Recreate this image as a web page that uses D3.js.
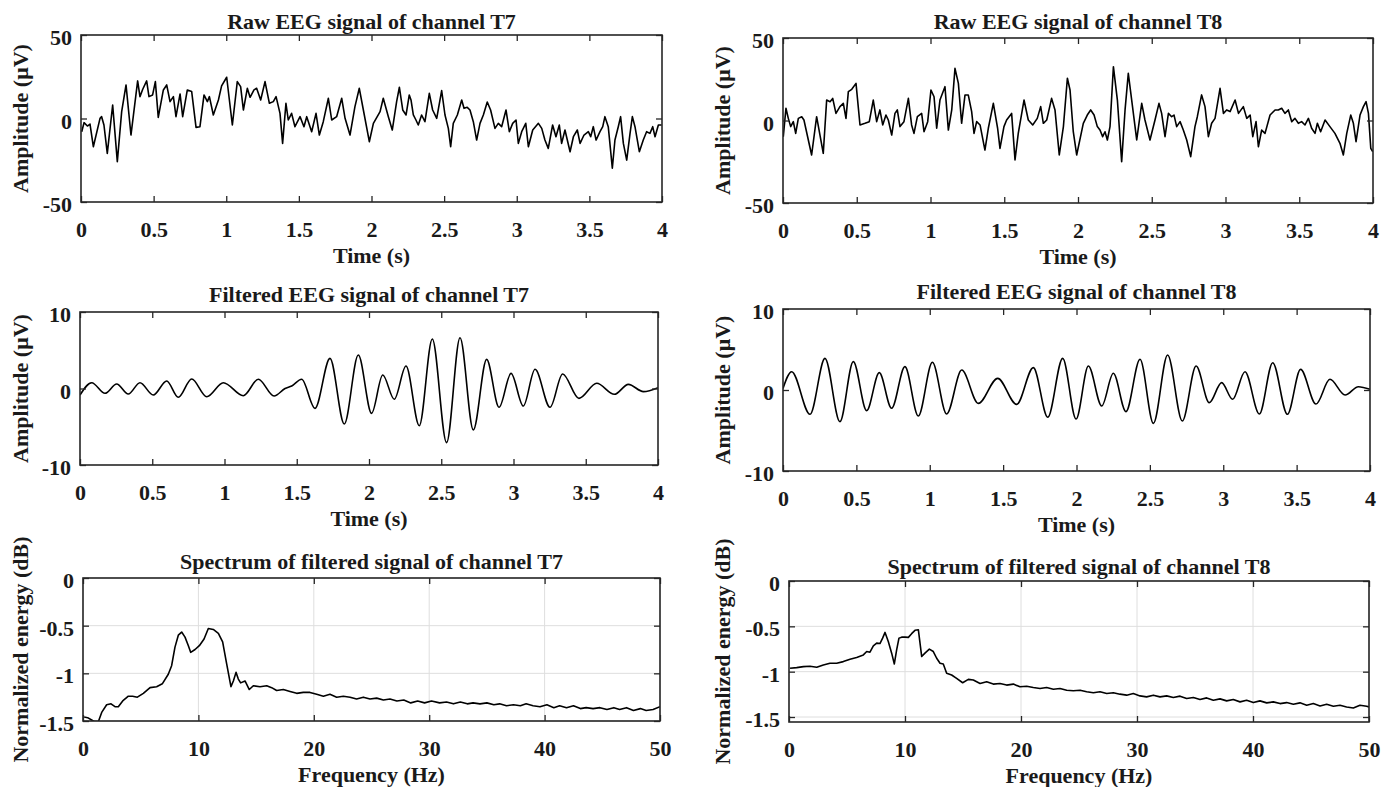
<!DOCTYPE html>
<html>
<head>
<meta charset="utf-8">
<script src="https://cdn.jsdelivr.net/npm/d3@7"></script>
<style>
  body { margin: 0; background: #fff; }
  svg text { font-family: "Liberation Serif", "Times New Roman", serif; font-weight: bold; fill: #1a1a1a; }
</style>
</head>
<body>
<svg id="chart" width="1395" height="787"></svg>
<script>
//--> Data: [time (s), amplitude (uV)] or [frequency (Hz), energy (dB)]
const rawT7 = [
  [0.005,-7.9],[0.021,-2.5],[0.044,-4.5],[0.062,-3.3],[0.085,-16.9],[0.131,0.1],[0.142,1.1],[0.158,-3.9],
  [0.181,-20.9],[0.218,8.1],[0.25,-25.8],[0.28,4.1],[0.31,20.1],[0.344,-9.9],[0.39,22.5],[0.406,13.1],
  [0.425,17.5],[0.452,22.5],[0.468,13.1],[0.493,14.1],[0.512,22.1],[0.532,0.7],[0.567,17.1],[0.59,20.1],
  [0.613,10.1],[0.636,13.1],[0.654,1.1],[0.682,14.7],[0.7,1.1],[0.732,17.1],[0.762,16.1],[0.792,-5.3],
  [0.819,-4.9],[0.847,14.1],[0.87,10.1],[0.884,13.1],[0.911,2.1],[0.946,11.1],[0.968,19.5],[1.003,24.7],
  [1.042,-3.9],[1.076,22.1],[1.099,19.1],[1.118,5.1],[1.145,18.1],[1.164,12.7],[1.191,17.1],[1.209,18.1],
  [1.237,11.1],[1.267,22.1],[1.297,9.1],[1.324,10.1],[1.343,13.1],[1.37,3.1],[1.388,-14.9],[1.411,9.1],
  [1.427,-0.9],[1.45,3.1],[1.473,-4.9],[1.508,1.1],[1.535,-4.9],[1.554,1.1],[1.588,-7.9],[1.618,3.1],
  [1.641,-9.9],[1.668,-1.9],[1.703,12.1],[1.726,-0.9],[1.76,1.1],[1.795,12.1],[1.818,0.1],[1.852,-9.9],
  [1.886,7.1],[1.916,18.1],[1.944,5.1],[1.985,-13.9],[2.013,-2.9],[2.059,4.1],[2.081,12.1],[2.116,1.1],
  [2.143,-6.9],[2.173,10.1],[2.192,18.7],[2.215,5.1],[2.238,2.1],[2.26,14.1],[2.272,11.1],[2.288,2.1],
  [2.306,-0.9],[2.322,-3.9],[2.345,2.1],[2.368,-1.9],[2.398,15.1],[2.421,5.1],[2.449,0.1],[2.483,16.7],
  [2.506,2.1],[2.529,-5.9],[2.545,-16.9],[2.563,-2.9],[2.591,2.1],[2.621,11.1],[2.637,6.1],[2.659,6.7],
  [2.678,5.1],[2.701,-1.9],[2.724,-12.9],[2.747,-2.9],[2.77,2.1],[2.797,9.9],[2.82,5.1],[2.85,-5.9],
  [2.873,-2.9],[2.896,-4.9],[2.926,5.1],[2.949,-7.9],[2.972,-2.9],[2.995,-0.9],[3.011,-14.9],[3.034,-7.9],
  [3.062,-2.9],[3.08,-16.9],[3.11,-6.9],[3.149,-2.9],[3.172,-5.9],[3.194,-12.9],[3.217,-17.9],[3.247,-3.9],
  [3.27,-10.9],[3.293,-3.9],[3.309,-14.9],[3.332,-6.9],[3.367,-19.9],[3.39,-10.9],[3.417,-6.9],[3.436,-14.9],
  [3.463,-9.9],[3.493,-7.9],[3.509,-10.9],[3.527,-4.9],[3.546,-12.9],[3.573,-7.9],[3.592,-4.9],[3.607,1.1],
  [3.63,-4.9],[3.658,-29.8],[3.676,-12.9],[3.699,-4.9],[3.715,1.1],[3.734,-14.9],[3.757,-24.9],[3.78,-8.9],
  [3.796,1.1],[3.814,-4.9],[3.844,-19.9],[3.871,-12.9],[3.894,-7.9],[3.917,-8.9],[3.936,-4.9],[3.952,-10.9],
  [3.975,-3.9],[3.998,-3.9]
];

const rawT8 = [
  [0.002,-9.8],[0.02,7.4],[0.036,1.3],[0.052,-3.7],[0.07,-0.7],[0.086,-7.8],[0.104,1.3],[0.127,2.3],
  [0.142,0.3],[0.194,-20.9],[0.228,2.3],[0.273,-19.9],[0.296,12.4],[0.319,11.4],[0.337,13.4],[0.359,4.3],
  [0.386,8.4],[0.409,10.4],[0.427,1.3],[0.443,17.5],[0.466,18.9],[0.495,22.5],[0.522,-2.7],[0.556,-1.7],
  [0.585,-0.7],[0.612,12.4],[0.635,-0.7],[0.657,6.4],[0.676,-2.7],[0.698,3.3],[0.714,0.3],[0.737,-8.8],
  [0.759,4.3],[0.775,6.4],[0.793,-3.7],[0.82,-0.7],[0.85,13.4],[0.872,-2.7],[0.888,-7.8],[0.911,2.3],
  [0.94,4.3],[0.956,-6.8],[0.981,-0.7],[1.003,18.5],[1.024,14.4],[1.042,-4.7],[1.064,12.4],[1.098,20.5],
  [1.121,-5.8],[1.144,6.4],[1.166,31.6],[1.189,22.5],[1.211,-1.7],[1.234,15.5],[1.256,15.5],[1.279,5.4],
  [1.295,-7.8],[1.313,-0.7],[1.336,-2.7],[1.369,-17.9],[1.392,-4.7],[1.426,10.4],[1.455,-4.7],[1.471,-16.9],
  [1.498,-3.7],[1.516,0.3],[1.55,4.3],[1.573,-23.9],[1.595,-7.8],[1.634,12.4],[1.663,0.3],[1.693,-2.7],
  [1.724,1.3],[1.747,8.4],[1.765,-1.7],[1.788,0.3],[1.821,13.4],[1.844,6.4],[1.873,-20.9],[1.901,-3.7],
  [1.928,25.6],[1.946,18.5],[1.968,-6.8],[1.991,-20.9],[2.036,-1.7],[2.063,3.3],[2.086,6.4],[2.109,3.3],
  [2.131,-3.7],[2.149,-5.8],[2.167,-9.8],[2.183,-6.8],[2.199,-11.8],[2.217,-3.7],[2.24,32.6],[2.267,12.4],
  [2.296,-24.9],[2.319,6.4],[2.341,28.6],[2.364,12.4],[2.398,-11.8],[2.432,10.4],[2.454,0.3],[2.488,-11.8],
  [2.522,0.3],[2.549,10.4],[2.567,4.3],[2.59,-9.8],[2.613,4.3],[2.635,2.3],[2.651,3.3],[2.669,-3.7],
  [2.692,-0.7],[2.714,-5.8],[2.737,-11.8],[2.764,-21.9],[2.793,-3.7],[2.809,2.3],[2.838,15.5],[2.861,8.4],
  [2.884,-9.8],[2.906,-1.7],[2.929,1.3],[2.963,19.5],[2.986,4.3],[3.008,6.4],[3.031,5.4],[3.065,12.4],
  [3.088,4.3],[3.121,8.4],[3.144,1.3],[3.167,3.3],[3.185,-9.8],[3.207,-0.7],[3.223,-15.9],[3.245,-5.8],
  [3.268,-7.8],[3.302,3.3],[3.336,6.4],[3.358,6.4],[3.381,7.4],[3.403,4.3],[3.426,6.4],[3.449,-0.7],
  [3.471,1.3],[3.494,-1.7],[3.516,-0.7],[3.539,-2.7],[3.562,1.3],[3.584,-4.7],[3.607,-7.8],[3.623,-1.7],
  [3.645,-6.8],[3.675,0.3],[3.708,-3.7],[3.742,-7.8],[3.776,-13.8],[3.799,-20.9],[3.822,-7.8],[3.849,3.3],
  [3.867,-1.7],[3.885,-12.8],[3.912,3.3],[3.935,8.4],[3.953,11.4],[3.969,4.3],[3.985,-16.9],[3.998,-18.9]
];

// filtered signals: turning points of the smooth waves
const filtT7 = [
  [0,-0.85],[0.081,0.76],[0.173,-0.63],[0.254,0.59],[0.334,-0.72],[0.415,0.76],[0.507,-0.85],[0.6,0.98],
  [0.68,-1.15],[0.773,1.24],[0.877,-1.07],[0.992,0.76],[1.13,-0.94],[1.234,1.2],[1.343,-0.98],[1.419,0],
  [1.465,0.33],[1.534,1.2],[1.626,-2.6],[1.73,3.94],[1.829,-4.64],[1.926,4.38],[2.018,-3.25],[2.095,1.76],
  [2.175,-1.4],[2.256,2.94],[2.348,-4.86],[2.438,6.47],[2.537,-7.08],[2.63,6.64],[2.722,-5.42],[2.814,3.81],
  [2.9,-2.46],[2.983,1.98],[3.068,-2.29],[3.149,2.51],[3.253,-2.46],[3.34,1.9],[3.453,-1.29],[3.576,0.68],
  [3.698,-0.76],[3.795,0.54],[3.899,-0.41],[4,0.11]
];

const filtT8 = [
  [0,0.2],[0.059,2.26],[0.184,-3.0],[0.286,3.91],[0.388,-3.91],[0.479,3.5],[0.57,-2.55],[0.656,2.14],
  [0.74,-2.26],[0.831,2.88],[0.922,-3.21],[1.018,3.42],[1.115,-2.96],[1.218,2.47],[1.331,-1.65],[1.463,1.44],
  [1.592,-1.77],[1.706,2.76],[1.804,-3.37],[1.906,3.91],[1.997,-3.58],[2.081,2.96],[2.172,-1.98],[2.251,2.06],
  [2.337,-2.67],[2.433,3.79],[2.524,-4.12],[2.621,4.32],[2.721,-3.83],[2.815,2.96],[2.905,-1.56],[2.989,0.91],
  [3.064,-1.15],[3.148,2.26],[3.246,-2.96],[3.337,3.37],[3.437,-3.0],[3.527,2.55],[3.632,-1.73],[3.727,1.32],
  [3.83,-0.62],[3.921,0.41],[4,0.08]
];

const specT7 = [
  [0.1,-1.458],[0.4,-1.465],[0.75,-1.49],[1.0,-1.507],[1.33,-1.507],[1.62,-1.41],[2.05,-1.33],[2.43,-1.32],
  [2.77,-1.35],[3.06,-1.35],[3.44,-1.29],[3.93,-1.24],[4.3,-1.24],[4.71,-1.25],[5.23,-1.21],[5.81,-1.15],
  [6.38,-1.14],[6.87,-1.11],[7.39,-1.01],[7.68,-0.92],[7.97,-0.725],[8.26,-0.6],[8.55,-0.567],[8.84,-0.62],
  [9.13,-0.71],[9.33,-0.78],[9.71,-0.75],[10.08,-0.71],[10.49,-0.64],[10.86,-0.53],[11.29,-0.54],[11.73,-0.58],
  [12.1,-0.67],[12.45,-0.9],[12.82,-1.14],[13.03,-1.08],[13.26,-0.99],[13.46,-1.06],[13.66,-1.1],[14.04,-1.08],
  [14.41,-1.17],[14.76,-1.13],[15.34,-1.14],[15.92,-1.13],[16.35,-1.15],[16.78,-1.18],[17.36,-1.17],[17.94,-1.19],
  [18.52,-1.21],[19.09,-1.2],[19.67,-1.2],[20.25,-1.22],[20.83,-1.24],[21.4,-1.22],[21.98,-1.25],[22.56,-1.24],
  [23.14,-1.25],[23.71,-1.27],[24.29,-1.25],[24.87,-1.27],[25.45,-1.26],[26.03,-1.28],[26.6,-1.27],[27.2,-1.29],
  [27.8,-1.28],[28.4,-1.31],[29.0,-1.29],[29.6,-1.31],[30.2,-1.29],[30.9,-1.31],[31.5,-1.3],[32.1,-1.32],
  [32.7,-1.3],[33.3,-1.32],[33.8,-1.31],[34.4,-1.32],[35.0,-1.31],[35.6,-1.33],[36.1,-1.32],[36.7,-1.34],
  [37.3,-1.33],[37.9,-1.34],[38.4,-1.32],[39.0,-1.34],[39.6,-1.35],[40.2,-1.33],[40.8,-1.36],[41.3,-1.34],
  [41.9,-1.36],[42.5,-1.34],[43.1,-1.37],[43.6,-1.36],[44.2,-1.37],[44.8,-1.36],[45.4,-1.38],[46.0,-1.36],
  [46.5,-1.38],[47.1,-1.36],[47.7,-1.39],[48.3,-1.37],[48.8,-1.39],[49.4,-1.38],[50,-1.35]
];

const specT8 = [
  [0.09,-0.963],[0.66,-0.955],[1.24,-0.944],[1.81,-0.94],[2.39,-0.952],[2.96,-0.926],[3.53,-0.907],[4.11,-0.907],
  [4.68,-0.889],[5.26,-0.863],[5.83,-0.844],[6.41,-0.815],[6.7,-0.778],[6.98,-0.785],[7.27,-0.715],[7.56,-0.685],
  [7.84,-0.69],[8.07,-0.63],[8.28,-0.567],[8.56,-0.667],[8.85,-0.796],[9.08,-0.915],[9.28,-0.759],[9.48,-0.63],
  [9.71,-0.619],[10.0,-0.619],[10.29,-0.622],[10.57,-0.581],[10.86,-0.544],[11.15,-0.537],[11.44,-0.833],[11.72,-0.796],
  [12.1,-0.752],[12.44,-0.778],[12.73,-0.852],[13.02,-0.907],[13.3,-0.915],[13.59,-1.018],[14.02,-1.037],[14.45,-1.074],
  [14.97,-1.122],[15.46,-1.085],[15.89,-1.092],[16.47,-1.13],[17.04,-1.111],[17.61,-1.137],[18.19,-1.13],[18.76,-1.148],
  [19.34,-1.137],[19.91,-1.167],[20.49,-1.16],[21.06,-1.174],[21.64,-1.185],[22.21,-1.174],[22.79,-1.193],[23.36,-1.185],
  [23.94,-1.204],[24.51,-1.211],[25.09,-1.204],[25.66,-1.222],[26.24,-1.233],[26.81,-1.222],[27.39,-1.241],[27.96,-1.233],
  [28.53,-1.248],[29.11,-1.259],[29.68,-1.241],[30.26,-1.267],[30.83,-1.278],[31.41,-1.259],[31.98,-1.278],[32.56,-1.267],
  [33.13,-1.285],[33.71,-1.27],[34.28,-1.296],[34.86,-1.285],[35.43,-1.307],[36.01,-1.289],[36.58,-1.315],[37.16,-1.3],
  [37.73,-1.322],[38.3,-1.307],[38.88,-1.333],[39.45,-1.315],[40.03,-1.341],[40.6,-1.322],[41.18,-1.344],[41.75,-1.333],
  [42.33,-1.352],[42.9,-1.341],[43.48,-1.359],[44.05,-1.344],[44.63,-1.37],[45.2,-1.352],[45.78,-1.378],[46.35,-1.359],
  [46.93,-1.381],[47.5,-1.37],[48.07,-1.389],[48.65,-1.4],[49.22,-1.37],[49.8,-1.381],[50,-1.389]
];

//--> Tick values
const timeTicks = [0, 0.5, 1, 1.5, 2, 2.5, 3, 3.5, 4];
const rawAmpTicks = [-50, 0, 50];
const filtAmpTicks = [-10, 0, 10];
const freqTicks = [0, 10, 20, 30, 40, 50];
const energyTicks = [-1.5, -1, -0.5, 0];

//--> Panel layout (plot box: left, top, right, bottom)
const panels = [
  { title: "Raw EEG signal of channel T7", data: rawT7, box: [81, 35, 662, 202], titleY: 29, yLabelX: 28,
    xDomain: [0, 4], yDomain: [-50, 50], xTicks: timeTicks, yTicks: rawAmpTicks,
    xLabel: "Time (s)", yLabel: "Amplitude (μV)", smooth: false, grid: false },
  { title: "Raw EEG signal of channel T8", data: rawT8, box: [783, 38, 1373, 203], titleY: 29, yLabelX: 730,
    xDomain: [0, 4], yDomain: [-50, 50], xTicks: timeTicks, yTicks: rawAmpTicks,
    xLabel: "Time (s)", yLabel: "Amplitude (μV)", smooth: false, grid: false },
  { title: "Filtered EEG signal of channel T7", data: filtT7, box: [80, 312, 658, 465], titleY: 302, yLabelX: 28,
    xDomain: [0, 4], yDomain: [-10, 10], xTicks: timeTicks, yTicks: filtAmpTicks,
    xLabel: "Time (s)", yLabel: "Amplitude (μV)", smooth: true, grid: false },
  { title: "Filtered EEG signal of channel T8", data: filtT8, box: [783, 309, 1370, 471], titleY: 299, yLabelX: 730,
    xDomain: [0, 4], yDomain: [-10, 10], xTicks: timeTicks, yTicks: filtAmpTicks,
    xLabel: "Time (s)", yLabel: "Amplitude (μV)", smooth: true, grid: false },
  { title: "Spectrum of filtered signal of channel T7", data: specT7, box: [83, 578, 660, 721], titleY: 569, yLabelX: 28,
    xDomain: [0, 50], yDomain: [-1.5, 0], xTicks: freqTicks, yTicks: energyTicks,
    xLabel: "Frequency (Hz)", yLabel: "Normalized energy (dB)", smooth: false, grid: true },
  { title: "Spectrum of filtered signal of channel T8", data: specT8, box: [789, 581, 1369, 722], titleY: 574, yLabelX: 730,
    xDomain: [0, 50], yDomain: [-1.555, 0], xTicks: freqTicks, yTicks: energyTicks,
    xLabel: "Frequency (Hz)", yLabel: "Normalized energy (dB)", smooth: false, grid: true }
];

const axisColor = "#262626";
const fontSize = 22;
const tickLen = 6;

const svg = d3.select("#chart");
svg.append("rect").attr("width", 1395).attr("height", 787).attr("fill", "#fff");

panels.forEach((p, i) => {
  const [left, top, right, bottom] = p.box;
  const w = right - left;
  const h = bottom - top;

  const x = d3.scaleLinear().domain(p.xDomain).range([0, w]);
  const y = d3.scaleLinear().domain(p.yDomain).range([h, 0]);

  const g = svg.append("g").attr("transform", `translate(${left}, ${top})`);

  g.append("clipPath").attr("id", `clip${i}`)
    .append("rect").attr("width", w).attr("height", h);

  //--> Grid (spectrum panels)
  if (p.grid) {
    g.append("g").selectAll("line").data(p.xTicks).enter().append("line")
      .attr("x1", d => x(d)).attr("x2", d => x(d)).attr("y1", 0).attr("y2", h)
      .attr("stroke", "#dedede").attr("stroke-width", 1);
    g.append("g").selectAll("line").data(p.yTicks).enter().append("line")
      .attr("x1", 0).attr("x2", w).attr("y1", d => y(d)).attr("y2", d => y(d))
      .attr("stroke", "#dedede").attr("stroke-width", 1);
  }

  //--> Signal
  const line = d3.line()
    .x(d => x(d[0]))
    .y(d => y(d[1]))
    .curve(p.smooth ? d3.curveMonotoneX : d3.curveLinear);

  g.append("path")
    .datum(p.data)
    .attr("clip-path", `url(#clip${i})`)
    .attr("fill", "none")
    .attr("stroke", "#000")
    .attr("stroke-width", 1.6)
    .attr("stroke-linejoin", "round")
    .attr("d", line);

  //--> Axes with inward ticks on all sides
  const styleAxis = sel => {
    sel.select(".domain").remove();
    sel.selectAll(".tick line").attr("stroke", axisColor).attr("stroke-width", 1.3);
    sel.selectAll("text").attr("font-size", `${fontSize}px`).attr("fill", "#1a1a1a");
  };

  g.append("g").attr("transform", `translate(0, ${h})`)
    .call(d3.axisBottom(x).tickValues(p.xTicks).tickFormat(d => String(d)).tickSize(-tickLen).tickSizeOuter(0))
    .call(styleAxis)
    .call(a => a.selectAll("text").attr("y", 35).attr("dy", null));

  g.append("g")
    .call(d3.axisTop(x).tickValues(p.xTicks).tickFormat("").tickSize(-tickLen).tickSizeOuter(0))
    .call(styleAxis);

  g.append("g")
    .call(d3.axisLeft(y).tickValues(p.yTicks).tickFormat(d => String(d)).tickSize(-tickLen).tickSizeOuter(0))
    .call(styleAxis)
    .call(a => a.selectAll("text").attr("x", -9).attr("dy", "9.5px"));

  g.append("g").attr("transform", `translate(${w}, 0)`)
    .call(d3.axisRight(y).tickValues(p.yTicks).tickFormat("").tickSize(-tickLen).tickSizeOuter(0))
    .call(styleAxis);

  //--> Box
  g.append("rect")
    .attr("width", w).attr("height", h)
    .attr("fill", "none").attr("stroke", axisColor).attr("stroke-width", 1.6);

  //--> Title and labels
  svg.append("text")
    .attr("x", left + w / 2).attr("y", p.titleY)
    .attr("text-anchor", "middle").attr("font-size", `${fontSize}px`)
    .text(p.title);

  svg.append("text")
    .attr("x", left + w / 2).attr("y", bottom + 61)
    .attr("text-anchor", "middle").attr("font-size", `${fontSize}px`)
    .text(p.xLabel);

  svg.append("text")
    .attr("transform", `translate(${p.yLabelX}, ${top + h / 2}) rotate(-90)`)
    .attr("text-anchor", "middle").attr("font-size", `${fontSize}px`)
    .text(p.yLabel);
});
</script>
</body>
</html>
